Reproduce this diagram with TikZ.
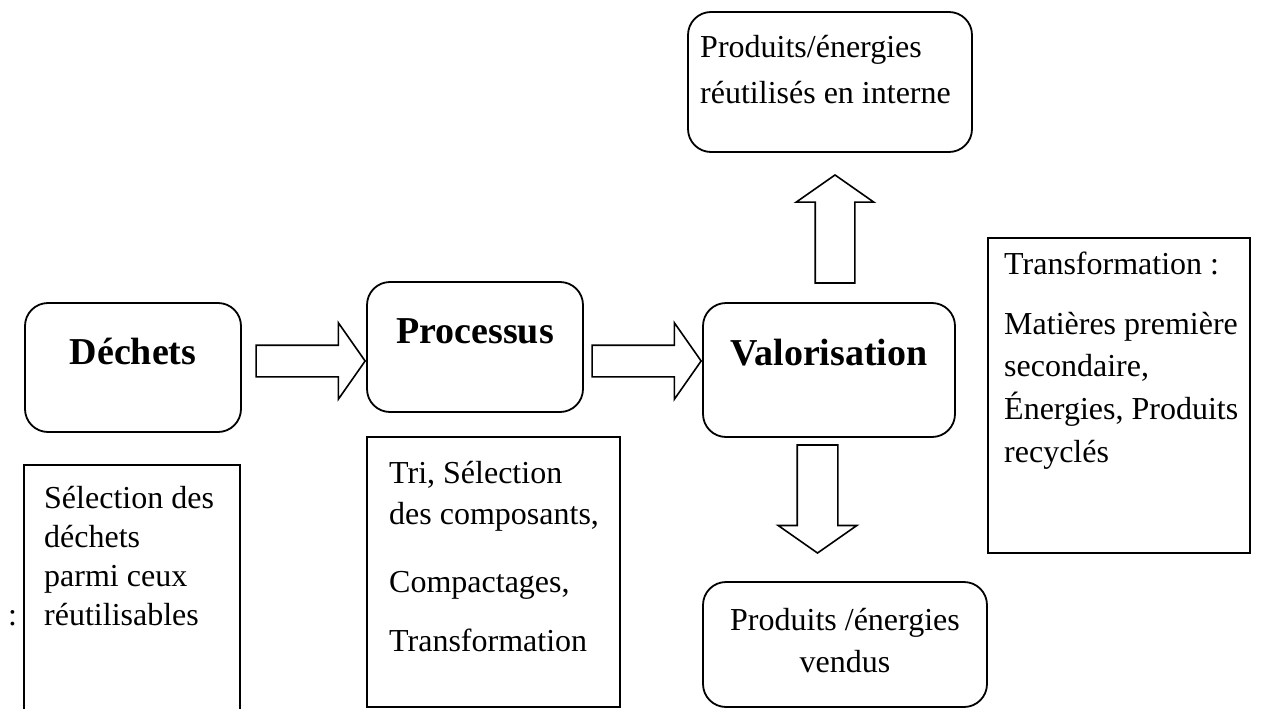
\documentclass[tikz,border=0pt]{standalone}
\usepackage{fontspec}
\setmainfont{Liberation Serif}
\usetikzlibrary{shapes.arrows}

\tikzset{
  rbox/.style={draw, line width=1.8pt, rounded corners=23pt, inner sep=0pt},
  sbox/.style={draw, line width=1.6pt, inner sep=0pt},
  txt/.style={anchor=base west, inner sep=0pt, font=\fontsize{32}{38}\selectfont},
  ctxt/.style={anchor=base, inner sep=0pt, font=\fontsize{32}{38}\selectfont},
  btxt/.style={anchor=base, inner sep=0pt, font=\fontsize{38}{45}\selectfont\bfseries},
  blockarrow/.style={single arrow, draw, line width=1.6pt,
    single arrow tip angle=110, single arrow head indent=0pt, anchor=tip},
  harrow/.style={blockarrow, inner sep=15pt, minimum height=109pt,
    minimum width=75pt, single arrow head extend=22.5pt},
  varrow/.style={blockarrow, inner sep=19pt, minimum height=108pt,
    minimum width=76pt, single arrow head extend=19pt},
}

\begin{document}
\begin{tikzpicture}[x=1pt, y=-1pt]
  \useasboundingbox (0,0) rectangle (1269,709);
  \clip (0,0) rectangle (1269,709);

  % main chain
  \node[rbox, minimum width=216pt, minimum height=129pt] (dechets) at (133,367.5) {};
  \node[rbox, minimum width=216pt, minimum height=130pt] (processus) at (475,347) {};
  \node[rbox, minimum width=252pt, minimum height=134pt] (valorisation) at (829,370) {};
  \node[rbox, minimum width=284pt, minimum height=140pt] (interne) at (830,82) {};
  \node[rbox, minimum width=284pt, minimum height=125pt] (vendus) at (845,644.5) {};

  \node[btxt] (tdechets) at (133,364) {Déchets};
  \node[btxt] (tprocessus) at (475,343) {Processus};
  \node[btxt] (tvalorisation) at (829,365) {Valorisation};

  \node[txt] (tint1) at (700,58) {Produits/énergies};
  \node[txt] (tint2) at (700,103) {réutilisés en interne};

  \node[ctxt] (tvend1) at (845,630) {Produits /énergies};
  \node[ctxt] (tvend2) at (845,672) {vendus};

  % block arrows
  \node[harrow] (a1) at (processus.west |- 0,361) {};
  \node[harrow] (a2) at (valorisation.west |- 0,361) {};
  \node[varrow, shape border rotate=90] (a3) at (835,174) {};
  \node[varrow, shape border rotate=270, inner sep=19.5pt] (a4) at (817.5,554) {};

  % description boxes
  \node[sbox, minimum width=216pt, minimum height=290pt] (selection) at (132,610) {};
  \node[sbox, minimum width=253pt, minimum height=270pt] (tri) at (493.5,572) {};
  \node[sbox, minimum width=262pt, minimum height=315pt] (transf) at (1119,395.5) {};

  \node[txt] (ts1) at (44,508) {Sélection des};
  \node[txt] (ts2) at (44,547) {déchets};
  \node[txt] (ts3) at (44,586) {parmi ceux};
  \node[txt] (ts4) at (44,625) {réutilisables};
  \node[txt] (colon) at (8,625) {:};

  \node[txt] (tt1) at (389,483) {Tri, Sélection};
  \node[txt] (tt2) at (389,524) {des composants,};
  \node[txt] (tt3) at (389,592) {Compactages,};
  \node[txt] (tt4) at (389,651) {Transformation};

  \node[txt] (tr1) at (1004,274) {Transformation :};
  \node[txt] (tr2) at (1004,334) {Matières première};
  \node[txt] (tr3) at (1004,376) {secondaire,};
  \node[txt] (tr4) at (1004,419) {Énergies, Produits};
  \node[txt] (tr5) at (1004,462) {recyclés};
\end{tikzpicture}
\end{document}
